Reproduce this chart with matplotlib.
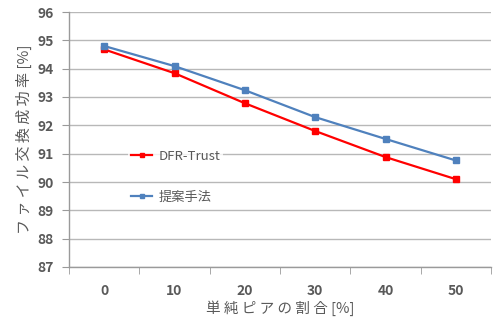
import matplotlib
matplotlib.use("Agg")
import matplotlib.pyplot as plt
import numpy as np

plt.rcParams['font.family'] = ['Noto Sans CJK JP', 'DejaVu Sans']

categories = ["0", "10", "20", "30", "40", "50"]
dfr_trust = [94.68, 93.84, 92.78, 91.8, 90.88, 90.1]
proposed = [94.8, 94.09, 93.24, 92.29, 91.52, 90.76]
y_ticks = [87, 88, 89, 90, 91, 92, 93, 94, 95, 96]

fig = plt.figure(figsize=(4.93, 3.2), dpi=100)
ax = fig.add_axes([69/493, 53/320, 422/493, 255/320])

x = np.arange(len(categories))
l1, = ax.plot(x, dfr_trust, color='#FF0000', lw=1.6, marker='s', ms=4, label='DFR-Trust', zorder=3)
l2, = ax.plot(x, proposed, color='#4F81BD', lw=1.6, marker='s', ms=4, label='提案手法', zorder=4)

ax.set_xlim(-0.5, len(categories) - 0.5)
ax.set_ylim(87, 96)
ax.set_yticks(y_ticks)
ax.set_xticks(x)
ax.set_xticklabels(categories)
ax.set_xticks(np.arange(-0.5, len(categories), 1.0), minor=True)
ax.tick_params(axis='x', which='major', length=0, pad=12, labelsize=10, labelcolor='#595959')
ax.tick_params(axis='x', which='minor', length=5, color='#9a9a9a', direction='out')
ax.tick_params(axis='y', length=5, color='#9a9a9a', labelsize=10, labelcolor='#595959', pad=6)
for lab in ax.get_xticklabels() + ax.get_yticklabels():
    lab.set_fontweight('bold')
ax.grid(axis='y', color='#b8b8b8', lw=1.0)
ax.set_axisbelow(True)
for s in ['top', 'right']:
    ax.spines[s].set_visible(False)
for s in ['left', 'bottom']:
    ax.spines[s].set_color('#9a9a9a')
    ax.spines[s].set_linewidth(1.0)

ax.set_ylabel('フ ァ イ ル 交 換 成 功 率 [%]', fontsize=10.8, color='#595959', labelpad=4)
ax.set_xlabel('単 純 ピ ア の 割 合 [%]', fontsize=10.5, color='#595959', labelpad=2)

leg1 = ax.legend(handles=[l1], loc='center left', bbox_to_anchor=(0.125, 0.433), frameon=True,
                 fontsize=9.5, handlelength=1.6, borderpad=0.2, handletextpad=0.5, markerscale=0.8)
leg1.get_frame().set_facecolor('white')
leg1.get_frame().set_edgecolor('none')
for t in leg1.get_texts():
    t.set_color('#595959')
ax.add_artist(leg1)
leg2 = ax.legend(handles=[l2], loc='center left', bbox_to_anchor=(0.125, 0.275), frameon=True,
                 fontsize=9.5, handlelength=1.6, borderpad=0.2, handletextpad=0.5, markerscale=0.8)
leg2.get_frame().set_facecolor('white')
leg2.get_frame().set_edgecolor('none')
for t in leg2.get_texts():
    t.set_color('#595959')

fig.savefig('out.png', dpi=100)
